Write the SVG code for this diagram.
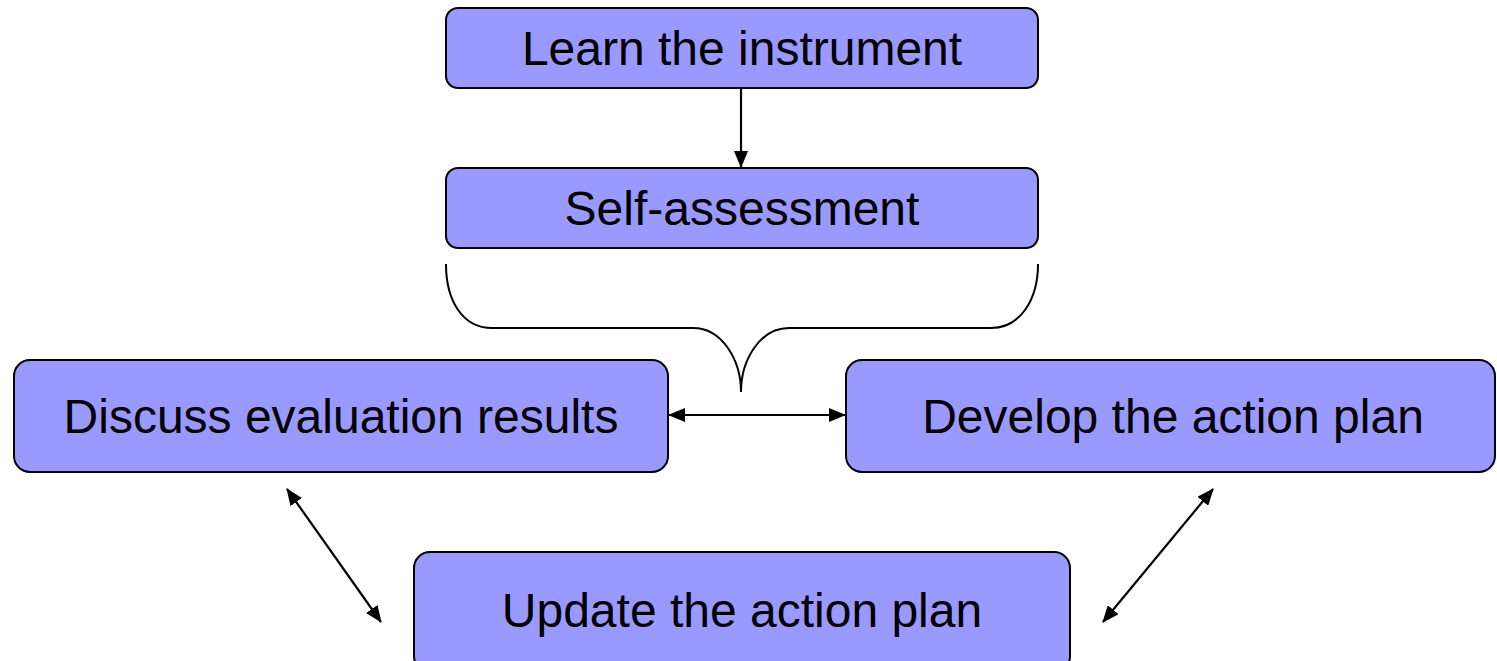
<svg xmlns="http://www.w3.org/2000/svg" width="1497" height="661" viewBox="0 0 1497 661">
  <style>
    .box { fill: #9999ff; stroke: #000; stroke-width: 2; }
    .label { font-family: "Liberation Sans", Arial, sans-serif; font-size: 48px; fill: #000; text-anchor: middle; }
    .link { stroke: #000; stroke-width: 2.2; fill: none; }
    .brace { stroke: #000; stroke-width: 2; fill: none; }
  </style>
  <defs>
    <marker id="head" viewBox="0 0 17 14" refX="16" refY="7" markerWidth="17" markerHeight="14" markerUnits="userSpaceOnUse" orient="auto-start-reverse">
      <path d="M0,0 L17,7 L0,14 Z" fill="#000"/>
    </marker>
  </defs>
  <rect width="1497" height="661" fill="#fff"/>

  <g id="connectors">
    <line class="link" x1="741" y1="88" x2="741" y2="167" marker-end="url(#head)"/>
    <line class="link" x1="669" y1="415" x2="845" y2="415" marker-start="url(#head)" marker-end="url(#head)"/>
    <line class="link" x1="287" y1="489" x2="381" y2="622" marker-start="url(#head)" marker-end="url(#head)"/>
    <line class="link" x1="1213" y1="489" x2="1103" y2="622" marker-start="url(#head)" marker-end="url(#head)"/>
    <path class="brace" d="M446,264 C446,300 462,328 492,328 L693,328 C722,328 741,360 741,392 C741,360 760,328 789,328 L991,328 C1020,328 1038,300 1038,264"/>
  </g>

  <g id="learn">
    <rect class="box" x="446" y="8" width="592" height="80" rx="12"/>
    <text class="label" x="742" y="65">Learn the instrument</text>
  </g>
  <g id="self-assessment">
    <rect class="box" x="446" y="168" width="592" height="80" rx="12"/>
    <text class="label" x="742" y="225">Self-assessment</text>
  </g>
  <g id="discuss">
    <rect class="box" x="14" y="360" width="654" height="112" rx="16"/>
    <text class="label" x="341" y="433">Discuss evaluation results</text>
  </g>
  <g id="develop">
    <rect class="box" x="846" y="360" width="649" height="112" rx="16"/>
    <text class="label" x="1173" y="433">Develop the action plan</text>
  </g>
  <g id="update">
    <rect class="box" x="414" y="552" width="656" height="120" rx="16"/>
    <text class="label" x="742" y="627">Update the action plan</text>
  </g>
</svg>
